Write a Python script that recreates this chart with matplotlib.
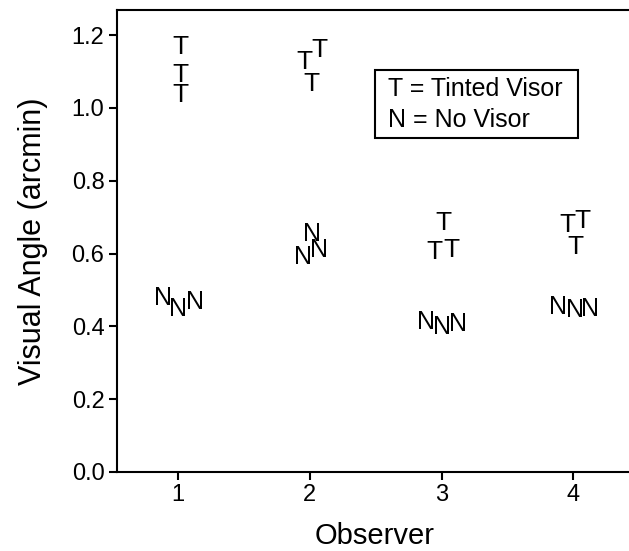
import matplotlib
matplotlib.use("Agg")
import matplotlib.pyplot as plt
from matplotlib.patches import Rectangle

plt.rcParams['font.family'] = ['Liberation Sans', 'DejaVu Sans']

# 观察者编号
observers = [1, 2, 3, 4]

# 有色面罩 (T) 三次测量
tinted = [
    [1.168, 1.090, 1.035],
    [1.159, 1.127, 1.067],
    [0.683, 0.605, 0.610],
    [0.678, 0.690, 0.619],
]
# 无面罩 (N) 三次测量
no_visor = [
    [0.477, 0.449, 0.468],
    [0.655, 0.591, 0.610],
    [0.413, 0.399, 0.406],
    [0.454, 0.445, 0.449],
]

# 字母水平错位 (points)，避免重叠
tinted_dx = [[1.5, 1.5, 1.5], [7, -3.5, 1.5], [1.5, -5, 7], [-4.5, 6.5, 1.5]]
no_visor_dx = [[-11, 0, 12], [1.5, -4.5, 6.5], [-11, 0, 12], [-11, 1.5, 12]]

fig = plt.figure(figsize=(6.29, 5.51), dpi=100)
ax = fig.add_axes([0.186, 0.1434, 0.8188, 0.8385])

for obs, vals, dxs in zip(observers, tinted, tinted_dx):
    for v, dx in zip(vals, dxs):
        ax.annotate('T', (obs, v), xytext=(dx, 0), textcoords='offset points',
                    ha='center', va='center', fontsize=19)
for obs, vals, dxs in zip(observers, no_visor, no_visor_dx):
    for v, dx in zip(vals, dxs):
        ax.annotate('N', (obs, v), xytext=(dx, 0), textcoords='offset points',
                    ha='center', va='center', fontsize=18)

ax.set_xlim(0.537, 4.446)
ax.set_ylim(0, 1.269)
ax.set_xticks(observers)
ax.set_yticks([0.0, 0.2, 0.4, 0.6, 0.8, 1.0, 1.2])
ax.set_yticklabels(['0.0', '0.2', '0.4', '0.6', '0.8', '1.0', '1.2'])

for s in ax.spines.values():
    s.set_linewidth(1.5)
ax.tick_params(direction='out', length=6, width=1.5, labelsize=17, pad=3)
ax.tick_params(top=False, right=False)

ax.set_xlabel('Observer', fontsize=21, labelpad=11)
ax.set_ylabel('Visual Angle (arcmin)', fontsize=22, labelpad=17)

# 图例方框
ax.add_patch(Rectangle((0.501, 0.723), 0.394, 0.147, transform=ax.transAxes,
                       facecolor='white', edgecolor='black', linewidth=1.5))
ax.text(0.526, 0.829, 'T = Tinted Visor', transform=ax.transAxes,
        ha='left', va='center', fontsize=18)
ax.text(0.526, 0.762, 'N = No Visor', transform=ax.transAxes,
        ha='left', va='center', fontsize=18)

fig.savefig('out.png', dpi=100)
